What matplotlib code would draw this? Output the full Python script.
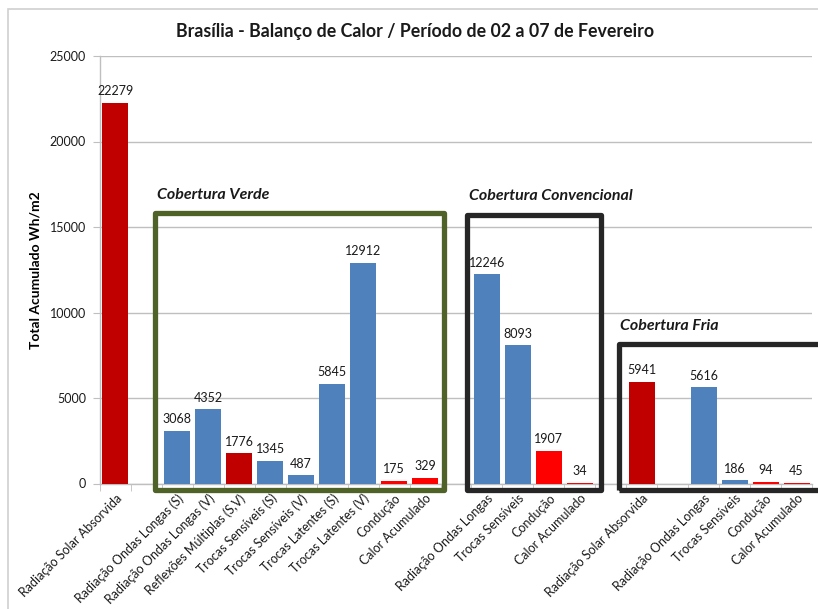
import numpy as np
import matplotlib.pyplot as plt
from matplotlib.patches import Rectangle

plt.rcParams['font.family'] = ['Lato', 'DejaVu Sans']

# ── Data (Wh/m2 accumulated, 02-07 Feb) ───────────────────────────────────────
# empty strings / NaN are spacer slots between the roof groups
categories = [
    "Radiação Solar Absorvida", "",
    "Radiação Ondas Longas (S)", "Radiação Ondas Longas (V)",
    "Reflexões Múltiplas (S,V)", "Trocas Sensíveis (S)", "Trocas Sensíveis (V)",
    "Trocas Latentes (S)", "Trocas Latentes (V)", "Condução", "Calor Acumulado", "",
    "Radiação Ondas Longas", "Trocas Sensíveis", "Condução", "Calor Acumulado", "",
    "Radiação Solar Absorvida", "",
    "Radiação Ondas Longas", "Trocas Sensíveis", "Condução", "Calor Acumulado",
]
values = [
    22279, np.nan,
    3068, 4352, 1776, 1345, 487, 5845, 12912, 175, 329, np.nan,
    12246, 8093, 1907, 34, np.nan,
    5941, np.nan,
    5616, 186, 94, 45,
]
groups = ["Cobertura Verde", "Cobertura Convencional", "Cobertura Fria"]

title = "Brasília - Balanço de Calor / Período de 02 a 07 de Fevereiro"
ylabel = "Total Acumulado Wh/m2"

BLUE = "#4F81BD"
DARK_RED = "#C00000"
RED = "#FF0000"
GRID = "#BFBFBF"


def bar_color(label):
    if label in ("Condução", "Calor Acumulado"):
        return RED
    if label.startswith("Radiação Solar") or label.startswith("Reflexões"):
        return DARK_RED
    return BLUE


fig = plt.figure(figsize=(8.18, 6.09), dpi=100)
ax = fig.add_axes([100 / 818, 1 - 483.5 / 609, 712 / 818, 427.5 / 609])

x = np.arange(len(categories))
colors = [bar_color(c) for c in categories]
bars = ax.bar(x, values, width=0.84, color=colors, lw=0, zorder=3)

for xi, v in zip(x, values):
    if np.isnan(v):
        continue
    ax.annotate(f"{v:.0f}", (xi, v), xytext=(0, 4), textcoords="offset points",
                ha="center", va="bottom", fontsize=9, color="#1a1a1a")

ax.set_xlim(-0.5, len(categories) - 0.5)
ax.set_ylim(0, 25000)
ax.set_yticks(np.arange(0, 25001, 5000))
ax.tick_params(axis="y", direction="out", length=5, color=GRID, labelsize=9,
               pad=5, labelcolor="#1a1a1a")

# labels on slot centres, tick marks on slot boundaries
ax.set_xticks(x)
ax.set_xticklabels(categories, rotation=45, ha="right", rotation_mode="anchor",
                   fontsize=9, color="#1a1a1a")
ax.tick_params(axis="x", which="major", length=0, pad=6)
ax.set_xticks(np.arange(len(categories) + 1) - 0.5, minor=True)
ax.tick_params(axis="x", which="minor", direction="out", length=5, color=GRID)

ax.grid(axis="y", color=GRID, lw=1, zorder=0)
for side in ("top", "right"):
    ax.spines[side].set_visible(False)
for side in ("left", "bottom"):
    ax.spines[side].set_color(GRID)
    ax.spines[side].set_linewidth(1)

ax.set_ylabel(ylabel, fontsize=10, fontweight="bold", labelpad=6)
fig.text(415 / 818, 1 - 32 / 609, title, ha="center", va="center",
         fontsize=12.8, fontweight="bold", color="#1a1a1a")

# group frames around each roof type
frames = [
    (1.28, -380, 10.61, 15820, "#4F6228"),
    (11.37, -380, 15.67, 15730, "#262626"),
    (16.25, -380, 23.2, 8130, "#262626"),
]
for name, (x0, y0, x1, y1, col) in zip(groups, frames):
    ax.add_patch(Rectangle((x0, y0), x1 - x0, y1 - y0, fill=False, ec=col,
                           lw=3.8, joinstyle="round", clip_on=False, zorder=4))
    ax.text(x0 + 0.05, y1 + 650, name, ha="left", va="bottom", fontsize=11.5,
            fontweight="bold", fontstyle="italic", color="#1a1a1a")

# light outer chart-area border
fig.add_artist(Rectangle((8 / 818, -0.02), 1.0, 1 - 9 / 609 + 0.02, fill=False,
                         ec="#D0D0D0", lw=1.2, transform=fig.transFigure))

fig.savefig("out.png", dpi=100)
